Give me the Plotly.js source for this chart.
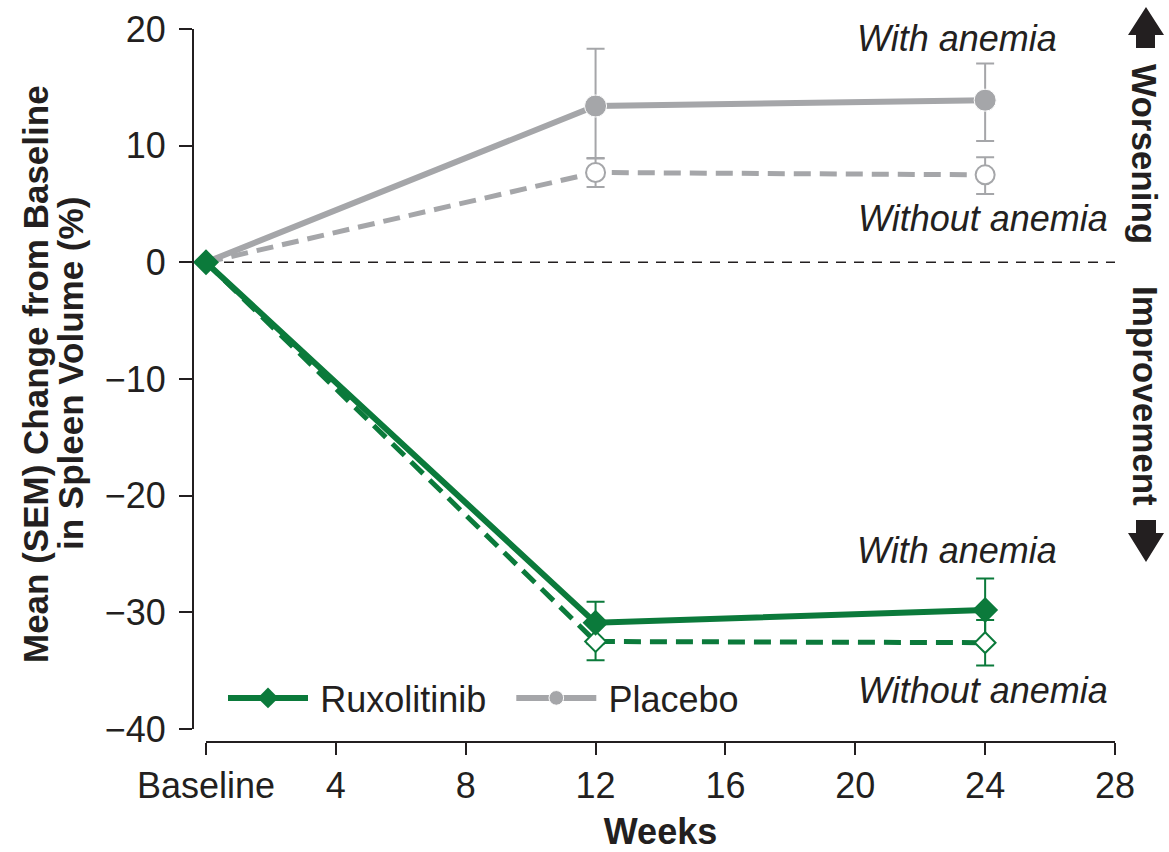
<!DOCTYPE html>
<html><head><meta charset="utf-8">
<script src="https://cdn.plot.ly/plotly-3.0.1.min.js"></script>
<style>html,body{margin:0;padding:0;background:#fff;}#chart{width:1169px;height:852px;}</style>
</head><body><div id="chart"></div>
<script>
// ---- data ----
const weeks = [0, 12, 24];
const xTickVals = [0, 4, 8, 12, 16, 20, 24, 28];
const xTickLabels = ['Baseline', '4', '8', '12', '16', '20', '24', '28'];
const yTickVals = [-40, -30, -20, -10, 0, 10, 20];
const yTickLabels = ['\u221240', '\u221230', '\u221220', '\u221210', '0', '10', '20'];

const ruxWithAnemia = [0, -30.9, -29.8];
const ruxWithAnemiaSem = [0, 1.8, 2.7];
const ruxWithoutAnemia = [0, -32.5, -32.6];
const ruxWithoutAnemiaSem = [0, 1.6, 1.95];
const placeboWithAnemia = [0, 13.4, 13.9];
const placeboWithAnemiaSemUp = [0, 4.9, 3.15];
const placeboWithAnemiaSemDown = [0, 4.45, 3.5];
const placeboWithoutAnemia = [0, 7.7, 7.5];
const placeboWithoutAnemiaSemUp = [0, 1.2, 1.5];
const placeboWithoutAnemiaSemDown = [0, 1.25, 1.65];

// ---- style ----
const GREEN = '#0b7a3b';
const GRAY = '#a5a6a9';
const INK = '#231f20';
const FONT = 'Liberation Sans, Arial, sans-serif';

// plot-area geometry (px)
const L = 193, T = 29, W = 922, H = 713;
const px = v => (v - L) / W;
const py = v => (T + H - v) / H;

const hideAtBaseline = (size) => weeks.map(w => (w === 0 ? 0 : size));

// error bars as separate traces drawn underneath the markers
const errTrace = (y, up, down, color) => ({
  x: weeks, y: y, type: 'scatter', mode: 'markers', showlegend: false, hoverinfo: 'skip',
  cliponaxis: false,
  marker: {size: 0, color: 'rgba(0,0,0,0)'},
  error_y: {type: 'data', symmetric: false, array: up, arrayminus: down, color: color, thickness: 2, width: 9}
});

const traces = [
  errTrace(placeboWithoutAnemia, placeboWithoutAnemiaSemUp, placeboWithoutAnemiaSemDown, GRAY),
  errTrace(placeboWithAnemia, placeboWithAnemiaSemUp, placeboWithAnemiaSemDown, GRAY),
  errTrace(ruxWithoutAnemia, ruxWithoutAnemiaSem, ruxWithoutAnemiaSem, GREEN),
  errTrace(ruxWithAnemia, ruxWithAnemiaSem, ruxWithAnemiaSem, GREEN),
  {
    x: weeks, y: placeboWithoutAnemia, type: 'scatter', mode: 'lines+markers',
    showlegend: false, cliponaxis: false,
    line: {color: GRAY, width: 5, dash: '17px,9px'},
    marker: {symbol: 'circle', size: hideAtBaseline(19), color: '#ffffff', opacity: 1, line: {color: GRAY, width: 2}}
  },
  {
    x: weeks, y: placeboWithAnemia, type: 'scatter', mode: 'lines+markers',
    name: '\u2009Placebo', legendrank: 2, cliponaxis: false,
    line: {color: GRAY, width: 6},
    marker: {symbol: 'circle', size: hideAtBaseline(22), color: GRAY, opacity: 1}
  },
  {
    x: weeks, y: ruxWithoutAnemia, type: 'scatter', mode: 'lines+markers',
    showlegend: false, cliponaxis: false,
    line: {color: GREEN, width: 5, dash: '17px,9px'},
    marker: {symbol: 'diamond', size: 16, color: '#ffffff', opacity: 1, line: {color: GREEN, width: 2}}
  },
  {
    x: weeks, y: ruxWithAnemia, type: 'scatter', mode: 'lines+markers',
    name: '\u2009Ruxolitinib\u00a0\u00a0', legendrank: 1, cliponaxis: false,
    line: {color: GREEN, width: 6},
    marker: {symbol: 'diamond', size: 20, color: GREEN, opacity: 1}
  }
];

const txt = (x, y, text, opts) => Object.assign({
  xref: 'paper', yref: 'paper', x: px(x), y: py(y), text: text, showarrow: false,
  xanchor: 'center', yanchor: 'middle',
  font: {family: FONT, size: 36, color: INK}
}, opts || {});

const annotations = [
  txt(957, 38, '<i>With anemia</i>'),
  txt(983, 218, '<i>Without anemia</i>'),
  txt(957, 550, '<i>With anemia</i>'),
  txt(983, 690, '<i>Without anemia</i>'),
  txt(1145, 154, '<b>Worsening</b>', {textangle: 90, font: {family: FONT, size: 35, color: INK}}),
  txt(1145, 396, '<b>Improvement</b>', {textangle: 90, font: {family: FONT, size: 35, color: INK}}),
  txt(35, 374, '<b>Mean (SEM) Change from Baseline</b>', {textangle: -90, font: {family: FONT, size: 35, color: INK}}),
  txt(70, 374, '<b>in Spleen Volume (%)</b>', {textangle: -90, font: {family: FONT, size: 35, color: INK}})
];

const poly = pts => 'M' + pts.map(p => px(p[0]) + ',' + py(p[1])).join(' L') + ' Z';
const upArrow = poly([[1146, 7], [1164, 35], [1155, 35], [1155, 48], [1136, 48], [1136, 35], [1128, 35]]);
const downArrow = poly([[1136, 520], [1156, 520], [1156, 533], [1164, 533], [1146, 562], [1128, 533], [1136, 533]]);

const shapes = [
  {type: 'line', xref: 'x', yref: 'y', x0: 0, x1: 28, y0: 0, y1: 0, layer: 'below',
   line: {color: INK, width: 1.5, dash: '10px,8px'}},
  {type: 'path', xref: 'paper', yref: 'paper', path: upArrow, fillcolor: INK, line: {width: 0}},
  {type: 'path', xref: 'paper', yref: 'paper', path: downArrow, fillcolor: INK, line: {width: 0}}
];

const layout = {
  width: 1169, height: 852,
  margin: {l: L, r: 1169 - L - W, t: T, b: 852 - T - H, pad: 0},
  paper_bgcolor: '#ffffff', plot_bgcolor: '#ffffff',
  font: {family: FONT, size: 36, color: INK},
  showlegend: true,
  legend: {
    orientation: 'h', x: px(223), y: py(698), xanchor: 'left', yanchor: 'middle',
    bgcolor: 'rgba(0,0,0,0)', font: {family: FONT, size: 36, color: INK},
    itemwidth: 80, traceorder: 'normal'
  },
  xaxis: {
    domain: [px(206), 1], range: [0, 28], anchor: 'free', position: 0,
    tickmode: 'array', tickvals: xTickVals, ticktext: xTickLabels,
    ticks: 'outside', ticklen: 12, tickwidth: 2, tickcolor: INK,
    showline: true, linewidth: 2, linecolor: INK,
    showgrid: false, zeroline: false,
    tickfont: {family: FONT, size: 36, color: INK},
    title: {text: '<b>Weeks</b>', font: {family: FONT, size: 36, color: INK}, standoff: 20}
  },
  yaxis: {
    domain: [py(729), 1], range: [-40, 20], anchor: 'free', position: 0,
    tickmode: 'array', tickvals: yTickVals, ticktext: yTickLabels,
    ticks: 'outside', ticklen: 13, tickwidth: 2, tickcolor: INK,
    showline: true, linewidth: 2, linecolor: INK,
    showgrid: false, zeroline: false, ticklabelstandoff: 6,
    tickfont: {family: FONT, size: 36, color: INK}
  },
  annotations: annotations,
  shapes: shapes
};

Plotly.newPlot('chart', traces, layout, {displayModeBar: false, staticPlot: true});
</script>
</body></html>
